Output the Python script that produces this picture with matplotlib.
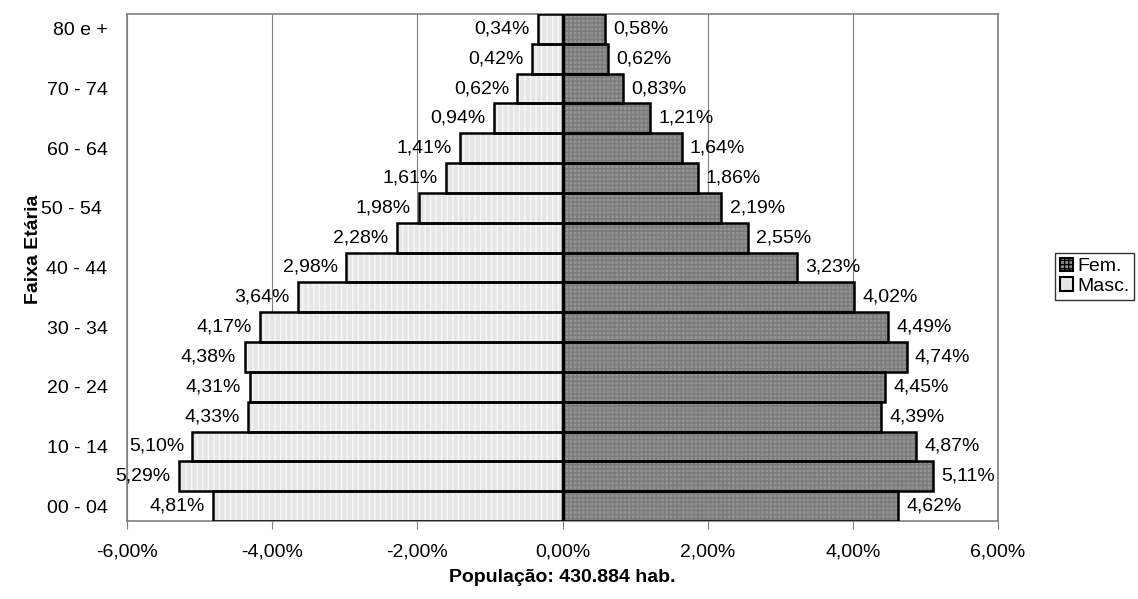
import numpy as np
import matplotlib.pyplot as plt
from matplotlib.patches import Patch

plt.rcParams['font.family'] = ['Liberation Sans', 'DejaVu Sans']

# -------------------------
# Data (bottom to top)
# -------------------------
faixas = ["00 - 04", "05 - 09", "10 - 14", "15 - 19", "20 - 24", "25 - 29",
          "30 - 34", "35 - 39", "40 - 44", "45 - 49", "50 - 54 ", "55 - 59",
          "60 - 64", "65 - 69", "70 - 74", "75 - 79", "80 e +"]
masc = [4.81, 5.29, 5.10, 4.33, 4.31, 4.38, 4.17, 3.64, 2.98, 2.28,
        1.98, 1.61, 1.41, 0.94, 0.62, 0.42, 0.34]
fem = [4.62, 5.11, 4.87, 4.39, 4.45, 4.74, 4.49, 4.02, 3.23, 2.55,
       2.19, 1.86, 1.64, 1.21, 0.83, 0.62, 0.58]
xticks = [-6, -4, -2, 0, 2, 4, 6]

MASC_FILL = "#e6e6e6"
FEM_FILL = "#939393"
FS = 14

fig = plt.figure(figsize=(11.38, 5.99), dpi=100)
ax = fig.add_axes([127 / 1138, 1 - 521 / 599, 871 / 1138, 507 / 599])

y = np.arange(len(faixas))
m = -np.array(masc)
f = np.array(fem)

# fill + pattern layer
ax.barh(y, m, height=1.0, color=MASC_FILL, hatch="|||", edgecolor="#f8f8f8",
        linewidth=0, zorder=2)
ax.barh(y, f, height=1.0, color=FEM_FILL, hatch="++++", edgecolor="#7a7a7a",
        linewidth=0, zorder=2)
# outline layer
ax.barh(y, m, height=1.0, facecolor="none", edgecolor="black", linewidth=1.8, zorder=3)
ax.barh(y, f, height=1.0, facecolor="none", edgecolor="black", linewidth=1.8, zorder=3)

ax.axvline(0, color="black", linewidth=2.5, zorder=4)

# labels
for yi, v in zip(y, masc):
    ax.annotate(f"{v:.2f}%".replace(".", ","), (-v, yi), xytext=(-6, 0),
                textcoords="offset points", ha="right", va="center", fontsize=FS)
for yi, v in zip(y, fem):
    ax.annotate(f"{v:.2f}%".replace(".", ","), (v, yi), xytext=(6, 0),
                textcoords="offset points", ha="left", va="center", fontsize=FS)

ax.set_xlim(-6, 6)
ax.set_ylim(-0.5, len(faixas) - 0.5)
ax.set_xticks(xticks)
ax.set_xticklabels([f"{t:.2f}%".replace(".", ",") for t in xticks], fontsize=FS)
ax.set_yticks(y[::2])
ax.set_yticklabels(faixas[::2], fontsize=FS)
ax.tick_params(axis="y", length=0, pad=14)
ax.tick_params(axis="x", length=6, color="#808080", pad=10)

ax.grid(axis="x", color="#808080", linewidth=0.8, zorder=0)
ax.set_axisbelow(True)
for s in ax.spines.values():
    s.set_color("#808080")
    s.set_linewidth(1.2)

ax.set_xlabel("População: 430.884 hab.", fontsize=FS, fontweight="bold")
ax.xaxis.set_label_coords(0.5, -(578 - 521) / 507, transform=ax.transAxes)
ax.xaxis.label.set_va("center")
ax.set_ylabel("Faixa Etária", fontsize=FS, fontweight="bold")
ax.yaxis.set_label_coords((33 - 127) / 871, (521 - 249) / 507)
ax.yaxis.label.set_va("center")

handles = [Patch(facecolor=FEM_FILL, edgecolor="black", hatch="++++", linewidth=1.5),
           Patch(facecolor=MASC_FILL, edgecolor="black", linewidth=1.5)]
leg = fig.legend(handles, ["Fem.", "Masc."], loc="upper left",
                 bbox_to_anchor=(1055 / 1138, 1 - 253 / 599), fontsize=FS,
                 frameon=True, fancybox=False, edgecolor="black",
                 handlelength=0.7, handleheight=0.7, handletextpad=0.2,
                 borderpad=0.25, labelspacing=0.1, borderaxespad=0)
leg.get_frame().set_linewidth(1.0)

fig.savefig("out.png", dpi=100)
